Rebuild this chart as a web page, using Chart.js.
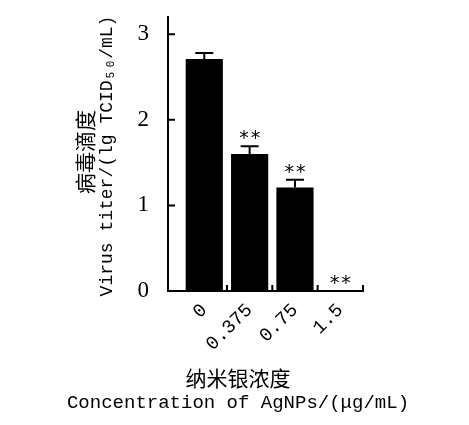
<!DOCTYPE html>
<html lang="zh">
<head>
<meta charset="UTF-8">
<title>病毒滴度</title>
<script src="https://cdn.jsdelivr.net/npm/chart.js"></script>
<style>
  body { margin: 0; background: #fff; }
  #chart { display: block; }
</style>
</head>
<body>
<canvas id="chart" width="469" height="425"></canvas>
<script>
// data
const concentrations = ['0', '0.375', '0.75', '1.5'];
const titerMeans = [2.71, 1.60, 1.21, 0];
const titerErrors = [0.07, 0.09, 0.09, 0];
const significance = ['', '**', '**', '**'];
const yTickValues = [0, 1, 2, 3];
const xTickMarks = [0.5, 1.5, 2.5, 3.5];

const monoFont = '"Liberation Mono", "DejaVu Sans Mono", monospace';
const cjkFont = '"Noto Sans CJK SC", sans-serif';

// error bars, stars, inward tick marks and the axis titles
const extras = {
  id: 'extras',
  afterDatasetsDraw(chart) {
    const ctx = chart.ctx;
    const x = chart.scales.x, y = chart.scales.y;
    ctx.save();
    ctx.strokeStyle = '#000';
    ctx.fillStyle = '#000';
    ctx.lineWidth = 2;

    // error bars (upper half only)
    titerMeans.forEach((m, i) => {
      if (!titerErrors[i]) return;
      const px = x.getPixelForValue(i);
      const top = y.getPixelForValue(m + titerErrors[i]);
      ctx.beginPath();
      ctx.moveTo(px, y.getPixelForValue(m));
      ctx.lineTo(px, top);
      ctx.moveTo(px - 9, top);
      ctx.lineTo(px + 9, top);
      ctx.stroke();
    });

    // significance stars
    ctx.font = '19px "DejaVu Sans Mono", monospace';
    ctx.textAlign = 'center';
    ctx.textBaseline = 'middle';
    significance.forEach((s, i) => {
      if (!s) return;
      const top = y.getPixelForValue(titerMeans[i] + titerErrors[i]);
      ctx.fillText(s, x.getPixelForValue(i), top - 7);
    });

    // inward ticks
    ctx.beginPath();
    yTickValues.forEach(v => {
      if (v === 0) return;
      const py = y.getPixelForValue(v);
      ctx.moveTo(chart.chartArea.left, py);
      ctx.lineTo(chart.chartArea.left + 7, py);
    });
    xTickMarks.forEach(v => {
      const px = x.getPixelForValue(v);
      ctx.moveTo(px, chart.chartArea.bottom);
      ctx.lineTo(px, chart.chartArea.bottom - 6);
    });
    ctx.stroke();

    // y title, two rotated lines
    ctx.save();
    ctx.translate(85, 152);
    ctx.rotate(-Math.PI / 2);
    ctx.font = '21px ' + cjkFont;
    ctx.fillText('病毒滴度', 0, 0);
    ctx.restore();

    ctx.save();
    ctx.translate(107, 156);
    ctx.rotate(-Math.PI / 2);
    ctx.font = '18px ' + monoFont;
    ctx.fillText('Virus titer/(lg TCID₅₀/mL)', 0, 0);
    ctx.restore();

    // x title
    ctx.font = '21px ' + cjkFont;
    ctx.fillText('纳米银浓度', 238, 378);
    ctx.font = '19px ' + monoFont;
    ctx.fillText('Concentration of AgNPs/(μg/mL)', 238, 403);

    ctx.restore();
  }
};

new Chart(document.getElementById('chart'), {
  type: 'bar',
  data: {
    datasets: [{
      data: titerMeans.map((m, i) => ({ x: i, y: m })),
      backgroundColor: '#000',
      borderWidth: 0,
      barPercentage: 0.82,
      categoryPercentage: 1
    }]
  },
  options: {
    responsive: false,
    animation: false,
    layout: { padding: { left: 0, right: 106, top: 17, bottom: 0 } },
    plugins: { legend: { display: false }, tooltip: { enabled: false } },
    scales: {
      x: {
        type: 'linear',
        offset: false,
        min: -0.8,
        max: 3.5,
        afterBuildTicks: s => { s.ticks = concentrations.map((c, i) => ({ value: i })); },
        afterFit: s => { s.height = 134; s.paddingLeft = 0; s.paddingRight = 0; },
        grid: { display: false },
        border: { display: true, color: '#000', width: 2 },
        ticks: {
          minRotation: 45,
          maxRotation: 45,
          padding: 0,
          color: '#000',
          font: { family: monoFont, size: 19 },
          callback: v => concentrations[v]
        }
      },
      y: {
        min: 0,
        max: 3.2,
        afterBuildTicks: s => { s.ticks = yTickValues.map(v => ({ value: v })); },
        afterFit: s => { s.width = 168; s.paddingTop = 0; s.paddingBottom = 0; },
        grid: { display: false },
        border: { display: true, color: '#000', width: 2 },
        ticks: {
          padding: 11,
          color: '#000',
          font: { family: '"Liberation Serif", serif', size: 23 }
        }
      }
    }
  },
  plugins: [extras]
});
</script>
</body>
</html>
